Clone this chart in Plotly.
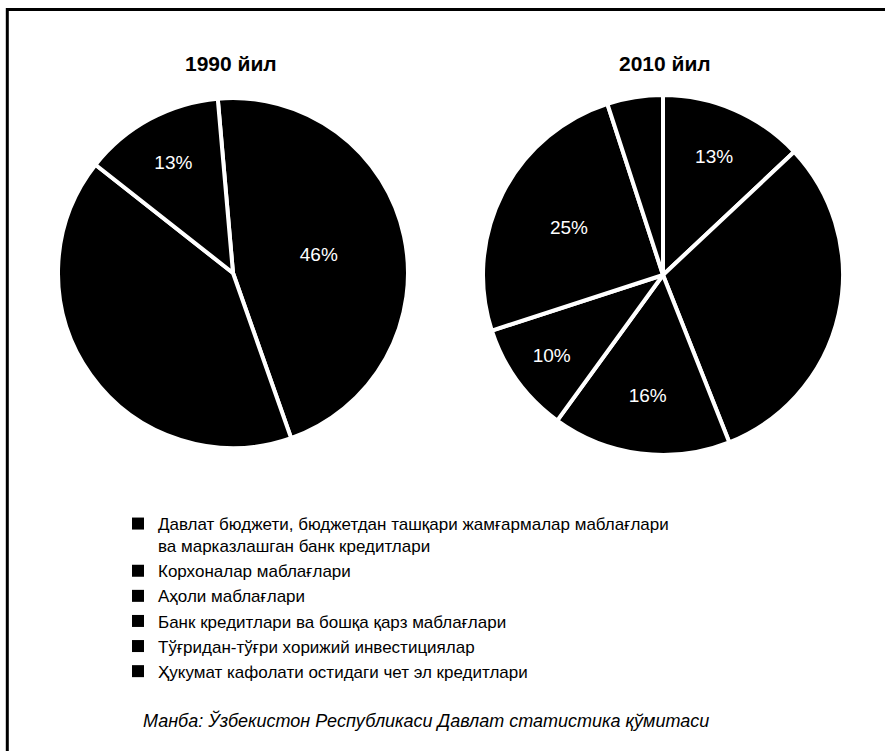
import plotly.graph_objects as go

# Инвестиция манбалари (легенда тартибида)
manbalar = [
    'Давлат бюджети, бюджетдан ташқари жамғармалар маблағлари<br>ва марказлашган банк кредитлари',
    'Корхоналар маблағлари',
    'Аҳоли маблағлари',
    'Банк кредитлари ва бошқа қарз маблағлари',
    'Тўғридан-тўғри хорижий инвестициялар',
    'Ҳукумат кафолати остидаги чет эл кредитлари',
]

# 1990 йил, % (соат милли бўйича тартиб)
manbalar_1990 = [manbalar[0], manbalar[1], manbalar[2]]
ulush_1990 = [46, 41, 13]
yozuv_1990 = [True, False, True]

# 2010 йил, % (соат милли бўйича тартиб)
manbalar_2010 = [manbalar[2], manbalar[1], manbalar[4], manbalar[3], manbalar[0], manbalar[5]]
ulush_2010 = [13, 31, 16, 10, 25, 5]
yozuv_2010 = [True, False, True, True, True, False]

sarlavhalar = ['1990 йил', '2010 йил']
manba = 'Манба: Ўзбекистон Республикаси Давлат статистика қўмитаси'

W, H = 885, 751
FONT = 'Liberation Sans, Arial, sans-serif'


def px_x(v):
    return v / W


def px_y(v):
    return 1 - v / H


def matn(qiymat, bor):
    return [f'{v}%' if b else '' for v, b in zip(qiymat, bor)]


def doira(nomlar, qiymat, bor, burilish, x0, x1, y0, y1):
    return go.Pie(
        labels=nomlar,
        values=qiymat,
        text=matn(qiymat, bor),
        textinfo='text',
        textposition='inside',
        insidetextorientation='horizontal',
        textfont=dict(color='white', size=19, family=FONT),
        sort=False,
        direction='clockwise',
        rotation=burilish,
        marker=dict(colors=['black'] * len(qiymat), line=dict(color='white', width=4)),
        domain=dict(x=[px_x(x0), px_x(x1)], y=[px_y(y1), px_y(y0)]),
        hoverinfo='label+percent',
        showlegend=False,
    )


fig = go.Figure()
fig.add_trace(doira(manbalar_1990, ulush_1990, yozuv_1990, -5, 58, 408, 98, 448))
fig.add_trace(doira(manbalar_2010, ulush_2010, yozuv_2010, 0, 483, 843, 95, 455))

# легенда учун (қора квадратлар)
for nom in manbalar:
    fig.add_trace(go.Scatter(
        x=[None], y=[None], mode='markers', name=nom,
        marker=dict(symbol='square', size=12, color='black'),
        hoverinfo='skip',
    ))

fig.add_annotation(x=px_x(231), y=px_y(63), xref='paper', yref='paper',
                   xanchor='center', yanchor='middle',
                   text=f'<b>{sarlavhalar[0]}</b>', showarrow=False,
                   font=dict(size=21, color='black', family=FONT))
fig.add_annotation(x=px_x(665), y=px_y(63), xref='paper', yref='paper',
                   xanchor='center', yanchor='middle',
                   text=f'<b>{sarlavhalar[1]}</b>', showarrow=False,
                   font=dict(size=21, color='black', family=FONT))
fig.add_annotation(x=px_x(426), y=px_y(720), xref='paper', yref='paper',
                   xanchor='center', yanchor='middle',
                   text=f'<i>{manba}</i>', showarrow=False,
                   font=dict(size=18, color='black', family=FONT))

# рамка (юқори ва чап чизиқлар)
fig.add_shape(type='line', xref='paper', yref='paper',
              x0=px_x(7), x1=1, y0=px_y(9.5), y1=px_y(9.5),
              line=dict(color='black', width=3))
fig.add_shape(type='line', xref='paper', yref='paper',
              x0=px_x(7.3), x1=px_x(7.3), y0=0, y1=px_y(8),
              line=dict(color='black', width=3))

fig.update_xaxes(visible=False)
fig.update_yaxes(visible=False)
fig.update_layout(
    width=W, height=H,
    margin=dict(l=0, r=0, t=0, b=0),
    paper_bgcolor='white',
    plot_bgcolor='white',
    font=dict(family=FONT, color='black'),
    showlegend=True,
    legend=dict(
        x=px_x(118), y=px_y(506), xanchor='left', yanchor='top',
        font=dict(size=17, color='black', family=FONT),
        bgcolor='rgba(0,0,0,0)', traceorder='normal', valign='top',
    ),
)

fig.write_html('out.html', config={'displayModeBar': False},
               post_script="document.body.style.margin='0';")
